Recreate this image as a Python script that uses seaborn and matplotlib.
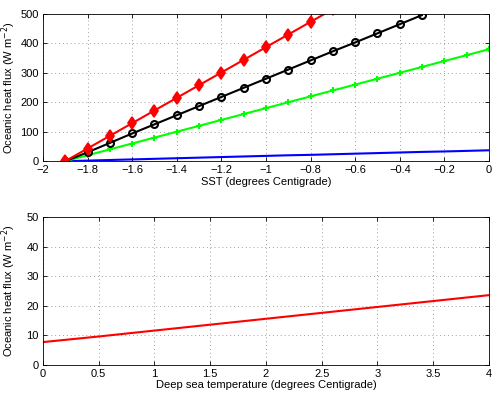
import numpy as np
import pandas as pd
import seaborn as sns
import matplotlib
matplotlib.use("Agg")
import matplotlib.pyplot as plt

# top panel: flux vs SST for several curves
sst = [-1.9, -1.8, -1.7, -1.6, -1.5, -1.4, -1.3, -1.2, -1.1, -1.0,
       -0.9, -0.8, -0.7, -0.6, -0.5, -0.4, -0.3, -0.2, -0.1, 0.0]
flux_red = [0, 43, 86, 129, 172, 215, 258, 301, 344, 387,
            430, 473, 516]
flux_black = [0, 30, 62, 94, 125, 156, 187, 218, 249, 280,
              311, 342, 373, 403, 434, 465, 496]
flux_green = [0, 20, 40, 60, 80, 100, 120, 140, 160, 180,
              200, 220, 240, 260, 280, 300, 320, 340, 360, 380]
flux_blue = [0, 2, 4, 6, 8, 10, 12, 14, 16, 18,
             20, 21.5, 23.5, 25.5, 27.5, 29.5, 31.5, 33, 35, 37]

# bottom panel: flux vs deep sea temperature
deep_t = [0, 0.5, 1.0, 1.5, 2.0, 2.5, 3.0, 3.5, 4.0]
deep_flux = [7.7, 9.6, 11.6, 13.6, 15.6, 17.6, 19.6, 21.6, 23.6]

sns.set_style("ticks")
plt.rcParams['font.family'] = ['Liberation Sans', 'DejaVu Sans']
plt.rcParams['font.size'] = 8
plt.rcParams['text.color'] = 'black'
plt.rcParams['axes.labelcolor'] = 'black'
plt.rcParams['xtick.color'] = 'black'
plt.rcParams['ytick.color'] = 'black'

fig = plt.figure(figsize=(4.99, 3.97), dpi=100)
ax1 = fig.add_axes([0.086, 0.594, 0.894, 0.371])
ax2 = fig.add_axes([0.086, 0.081, 0.894, 0.372])

sns.lineplot(x=sst[:len(flux_blue)], y=flux_blue, ax=ax1, color='blue', lw=1.5)
sns.lineplot(x=sst[:len(flux_green)], y=flux_green, ax=ax1, color='#00ff00', lw=1.5,
             marker='+', markersize=5, markeredgewidth=1.5, markeredgecolor='#00ff00')
sns.lineplot(x=sst[:len(flux_black)], y=flux_black, ax=ax1, color='black', lw=1.5,
             marker='o', markersize=5, markerfacecolor='none', markeredgewidth=1.5,
             markeredgecolor='black')
sns.lineplot(x=sst[:len(flux_red)], y=flux_red, ax=ax1, color='red', lw=1.5,
             marker='d', markersize=6, markeredgewidth=1.2, markeredgecolor='red',
             markerfacecolor='red')

sns.lineplot(x=deep_t, y=deep_flux, ax=ax2, color='red', lw=1.5)

ax1.set_xlim(-2, 0)
ax1.set_ylim(0, 500)
ax1.set_xticks(np.arange(-2, 0.01, 0.2))
ax1.set_xticklabels(['\u22122', '\u22121.8', '\u22121.6', '\u22121.4', '\u22121.2', '\u22121',
                     '\u22120.8', '\u22120.6', '\u22120.4', '\u22120.2', '0'])
ax1.set_yticks(range(0, 501, 100))
ax1.set_xlabel('SST (degrees Centigrade)', labelpad=1)
ax1.set_ylabel('Oceanic heat flux (W m$^{-2}$)')

ax2.set_xlim(0, 4)
ax2.set_ylim(0, 50)
ax2.set_xticks(np.arange(0, 4.01, 0.5))
ax2.set_xticklabels(['0', '0.5', '1', '1.5', '2', '2.5', '3', '3.5', '4'])
ax2.set_yticks(range(0, 51, 10))
ax2.set_xlabel('Deep sea temperature (degrees Centigrade)', labelpad=1)
ax2.set_ylabel('Oceanic heat flux (W m$^{-2}$)')

for ax in (ax1, ax2):
    ax.grid(True, linestyle=(0, (1, 3)), color='#a0a0a0', lw=0.7)
    ax.tick_params(direction='in', top=True, right=True, length=3, width=0.6,
                   labelsize=8, pad=3)
    ax.yaxis.set_label_coords(-0.056, 0.5)
    for sp in ax.spines.values():
        sp.set_visible(True)
        sp.set_color('black')
        sp.set_linewidth(0.6)

fig.savefig('out.png', dpi=100)
